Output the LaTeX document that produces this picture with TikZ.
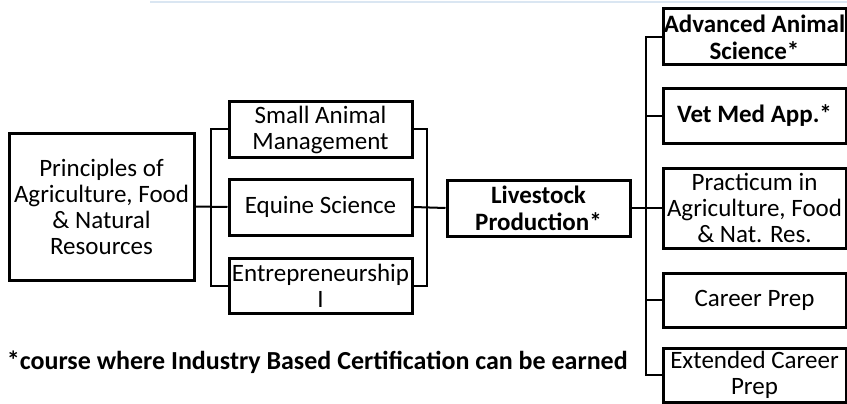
\documentclass[tikz,border=0pt]{standalone}
\usepackage{fontspec}
\setmainfont{Carlito}
\begin{document}
\begin{tikzpicture}[x=1pt,y=-1pt,
  box/.style={draw=black, fill=white, line width=3pt, inner sep=0pt, align=center,
    minimum width=183pt, font=\fontsize{25}{26}\selectfont},
  bbox/.style={box, font=\fontsize{25}{27}\selectfont\bfseries},
  conn/.style={draw=black, line width=2pt}]
\useasboundingbox (0,0) rectangle (847,404);
\draw[draw={rgb,255:red,218;green,230;blue,242}, line width=2.5pt] (150,2) -- (847,2);
% nodes
\node[box, minimum width=185pt, minimum height=147pt] (P) at (101.5,206.5) {Principles of\\Agriculture, Food\\\& Natural\\Resources};
\node[box, minimum height=55pt] (SA) at (320.5,129.5) {Small Animal\\Management};
\node[box, minimum height=56pt] (EQ) at (320.5,207) {Equine Science};
\node[box, minimum height=55pt] (EN) at (320.5,285.5) {Entrepreneurship\\I};
\node[bbox, minimum height=56pt] (LP) at (538.5,208) {Livestock\\Production*};
\node[bbox, minimum height=56pt] (AA) at (754.5,37) {Advanced Animal\\Science*};
\node[bbox, minimum height=54pt] (VM) at (754.5,116) {Vet Med App.*};
\node[box, minimum height=80pt] (PR) at (754.5,208) {Practicum in\\Agriculture, Food\\\& Nat. Res.};
\node[box, minimum height=54pt] (CP) at (754.5,300) {Career Prep};
\node[box, minimum height=54pt] (EC) at (754.5,375) {Extended Career\\Prep};
\node[anchor=east, inner sep=0pt, font=\fontsize{26}{28}\selectfont\bfseries] (FN) at (628,362) {*course where Industry Based Certification can be earned};
% connectors
\draw[conn] (P.east) -- (EQ.west);
\draw[conn] (SA.west) -- ++(-17,0) |- (EN.west);
\draw[conn] (SA.east) -- ++(13,0) |- (EN.east);
\draw[conn] (EQ.east) -- (LP.west);
\draw[conn] (LP.east) -- (PR.west);
\draw[conn] (AA.west) -- ++(-16,0) |- (EC.west);
\draw[conn] (VM.west) -- ++(-16,0);
\draw[conn] (CP.west) -- ++(-16,0);
\end{tikzpicture}
\end{document}
